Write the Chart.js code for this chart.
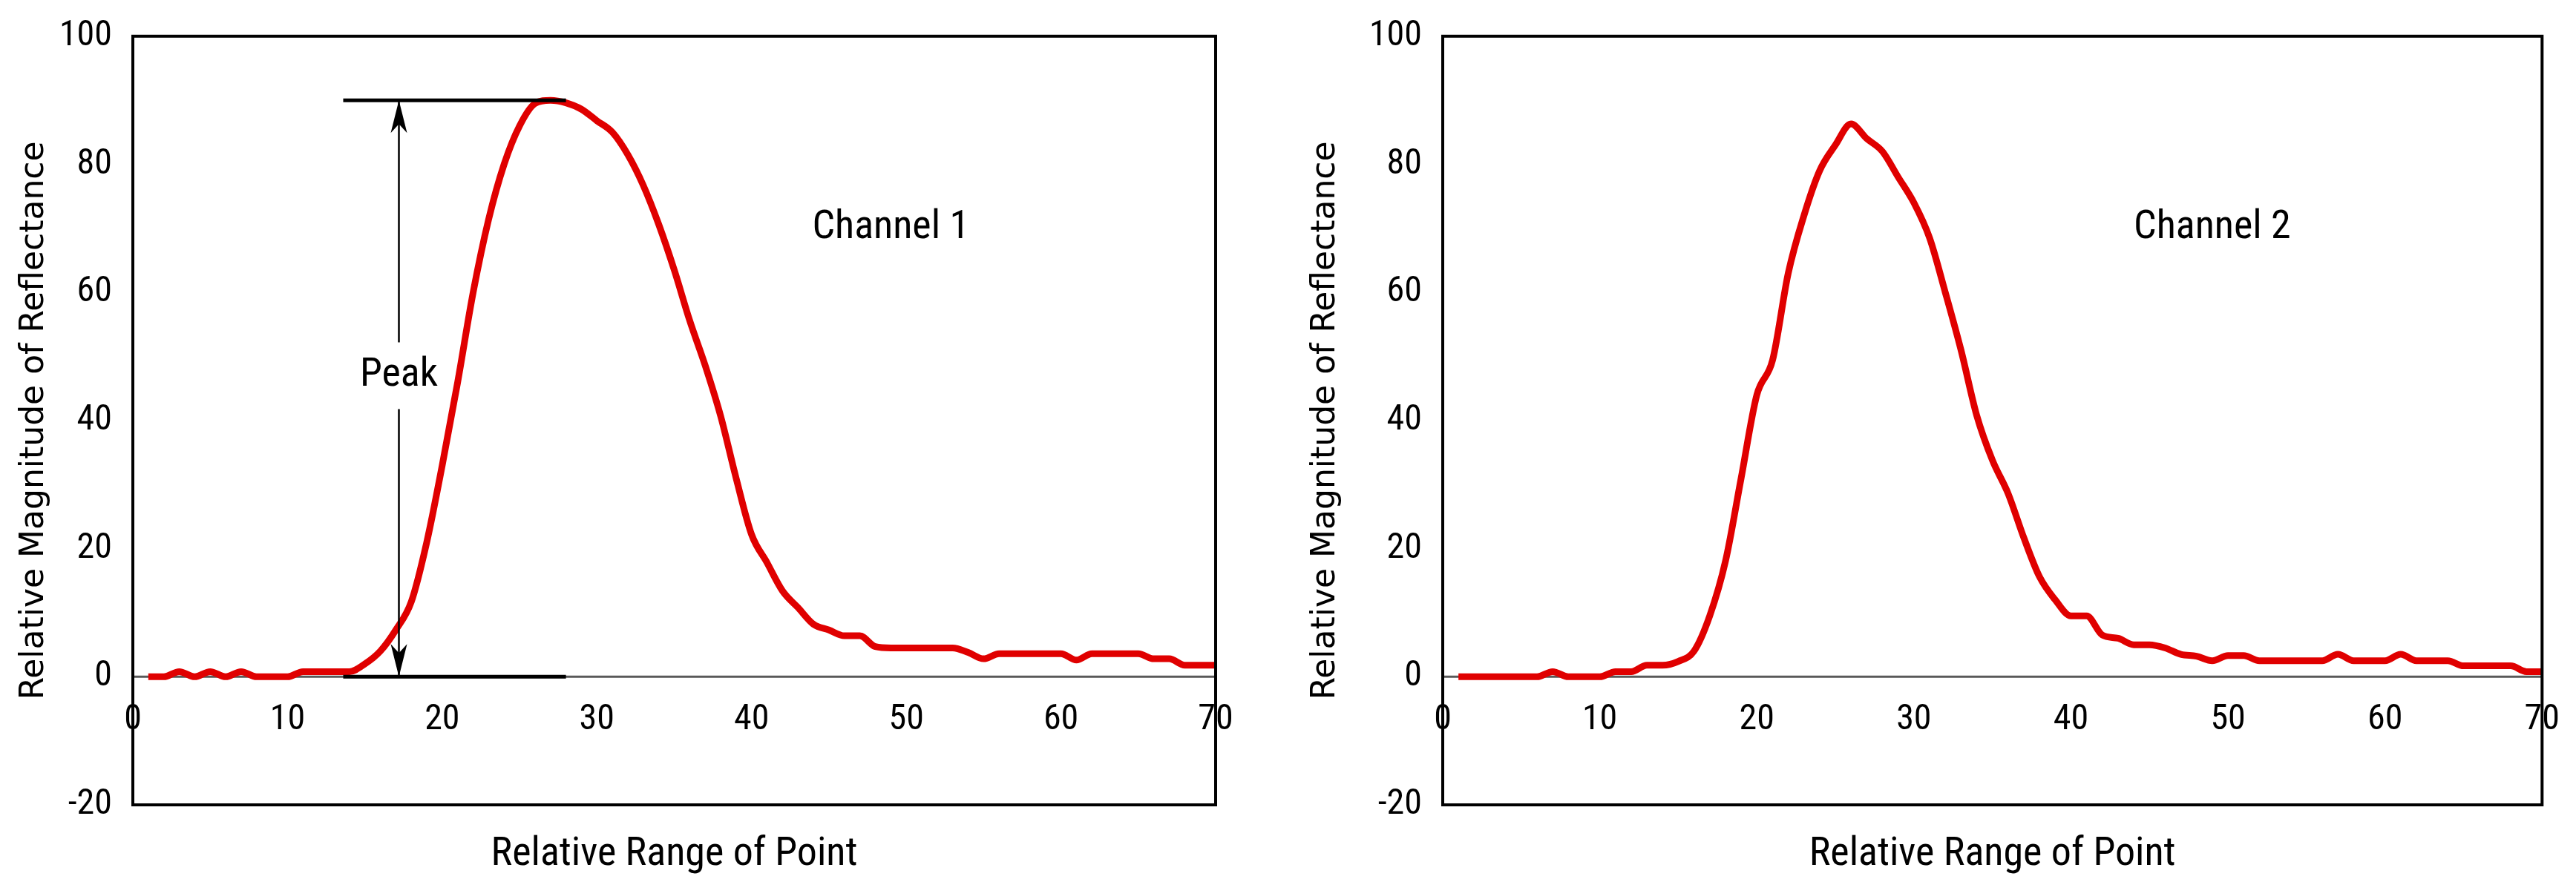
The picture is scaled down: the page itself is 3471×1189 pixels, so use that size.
<!DOCTYPE html>
<html>
<head>
<meta charset="utf-8">
<script src="https://cdn.jsdelivr.net/npm/chart.js@4.4.1/dist/chart.umd.min.js"></script>
<style>
  body { margin: 0; background: #fff; }
  .wrap { position: absolute; top: 0; height: 1189px; }
  #w1 { left: 0; width: 1740px; }
  #w2 { left: 1740px; width: 1731px; }
</style>
</head>
<body>
<div class="wrap" id="w1"><canvas id="c1"></canvas></div>
<div class="wrap" id="w2"><canvas id="c2"></canvas></div>
<script>
// 数据
const points = [];
for (let i = 1; i <= 70; i++) points.push(i);

const channel1 = [0, 0, 0.8, 0, 0.8, 0, 0.8, 0, 0, 0,
  0.8, 0.8, 0.8, 0.8, 2, 4, 7.3, 11.7, 21, 33,
  46, 60, 71.4, 80, 86, 89.5, 90, 89.6, 88.6, 86.8,
  85, 81.5, 76.7, 70.6, 63.5, 55.6, 48.6, 40.7, 31, 22.2,
  17.8, 13.4, 10.8, 8.2, 7.3, 6.4, 6.4, 4.7, 4.5, 4.5,
  4.5, 4.5, 4.5, 3.8, 2.8, 3.6, 3.6, 3.6, 3.6, 3.6,
  2.6, 3.6, 3.6, 3.6, 3.6, 2.8, 2.8, 1.8, 1.8, 1.8];

const channel2 = [0, 0, 0, 0, 0, 0, 0.8, 0, 0, 0,
  0.8, 0.8, 1.8, 1.8, 2.4, 4, 9.5, 18, 31, 44,
  49.4, 63, 72, 79, 83, 86.3, 84, 82, 78, 74,
  68.5, 60, 51, 40.8, 33.8, 28.6, 21.7, 15.6, 12, 9.5,
  9.5, 6.5, 6, 5, 5, 4.5, 3.5, 3.2, 2.5, 3.3,
  3.3, 2.5, 2.5, 2.5, 2.5, 2.5, 3.5, 2.5, 2.5, 2.5,
  3.5, 2.5, 2.5, 2.5, 1.7, 1.7, 1.7, 1.7, 0.8, 0.8];

const xTicks = [0, 10, 20, 30, 40, 50, 60, 70];
const yTicks = [-20, 0, 20, 40, 60, 80, 100];

// 标注
const peakArrow = { x: 17.2, from: 0, to: 90, lineFrom: 13.6, lineTo: 28, label: 'Peak', labelY: 47 };

const narrow = "'Liberation Sans Narrow', 'Roboto Condensed', 'Liberation Sans'";
const tickFont = { family: narrow, size: 48 };

// 边框、零线与文字
const framePlugin = {
  id: 'frame',
  beforeDatasetsDraw(chart) {
    const { ctx, chartArea: a, scales } = chart;
    const y0 = scales.y.getPixelForValue(0);
    ctx.save();
    ctx.strokeStyle = '#595959';
    ctx.lineWidth = 3;
    ctx.beginPath();
    ctx.moveTo(a.left, y0);
    ctx.lineTo(a.right, y0);
    ctx.stroke();
    ctx.restore();
  },
  afterDatasetsDraw(chart, args, opts) {
    const { ctx, chartArea: a, scales } = chart;
    ctx.save();
    ctx.strokeStyle = '#000';
    ctx.lineWidth = 4;
    ctx.strokeRect(a.left, a.top, a.right - a.left, a.bottom - a.top);

    ctx.fillStyle = '#000';
    ctx.font = "54px " + narrow;
    ctx.textAlign = 'center';
    ctx.textBaseline = 'middle';
    ctx.fillText(opts.label, scales.x.getPixelForValue(opts.labelX), scales.y.getPixelForValue(opts.labelY));

    if (opts.arrow) {
      const p = opts.arrow;
      const px = scales.x.getPixelForValue(p.x);
      const yb = scales.y.getPixelForValue(p.from);
      const yt = scales.y.getPixelForValue(p.to);
      const ym = scales.y.getPixelForValue(p.labelY);
      ctx.lineWidth = 5;
      ctx.beginPath();
      ctx.moveTo(scales.x.getPixelForValue(p.lineFrom), yt);
      ctx.lineTo(scales.x.getPixelForValue(p.lineTo), yt);
      ctx.moveTo(scales.x.getPixelForValue(p.lineFrom), yb);
      ctx.lineTo(scales.x.getPixelForValue(p.lineTo), yb);
      ctx.stroke();
      ctx.lineWidth = 2.5;
      ctx.beginPath();
      ctx.moveTo(px, yt);
      ctx.lineTo(px, ym - 45);
      ctx.moveTo(px, ym + 45);
      ctx.lineTo(px, yb);
      ctx.stroke();
      // 箭头
      [[yt, 1], [yb, -1]].forEach(([y, d]) => {
        ctx.beginPath();
        ctx.moveTo(px, y);
        ctx.lineTo(px - 11, y + d * 44);
        ctx.lineTo(px, y + d * 32);
        ctx.lineTo(px + 11, y + d * 44);
        ctx.closePath();
        ctx.fill();
      });
      ctx.font = "54px " + narrow;
      ctx.fillText(p.label, px, ym);
    }
    ctx.restore();
  }
};

function makeChart(id, values, leftWidth, rightPad, label, arrow) {
  return new Chart(document.getElementById(id), {
    type: 'line',
    data: {
      labels: points,
      datasets: [{
        data: values.map((v, i) => ({ x: points[i], y: v })),
        borderColor: '#E00000',
        borderWidth: 9,
        pointRadius: 0,
        tension: 0.4,
        cubicInterpolationMode: 'monotone',
        xAxisID: 'x'
      }]
    },
    options: {
      responsive: true,
      maintainAspectRatio: false,
      animation: false,
      layout: { padding: { top: 44, right: rightPad } },
      plugins: {
        legend: { display: false },
        tooltip: { enabled: false },
        frame: { label: label, labelX: 49, labelY: 70, arrow: arrow }
      },
      scales: {
        x: {
          type: 'linear',
          position: { y: 0 },
          min: 0, max: 70,
          grid: { display: false },
          border: { display: false },
          afterBuildTicks: s => { s.ticks = xTicks.map(v => ({ value: v })); },
          ticks: { color: '#000', font: tickFont, padding: 22, maxRotation: 0 }
        },
        x2: {
          type: 'linear',
          position: 'bottom',
          min: 0, max: 70,
          grid: { display: false },
          border: { display: false },
          ticks: { display: false },
          title: { display: true, text: 'Relative Range of Point', color: '#000',
                   font: { family: narrow, size: 54 }, padding: { top: 14 } },
          afterFit: s => { s.height = 104; }
        },
        y: {
          min: -20, max: 100,
          grid: { display: false },
          border: { display: false },
          afterBuildTicks: s => { s.ticks = yTicks.map(v => ({ value: v })); },
          ticks: { color: '#000', font: tickFont, padding: 20 },
          title: { display: true, text: 'Relative Magnitude of Reflectance', color: '#000',
                   font: { family: "'DejaVu Sans'", size: 44 }, padding: { top: 20, bottom: 0 } },
          afterFit: s => { s.width = leftWidth; }
        }
      }
    },
    plugins: [framePlugin]
  });
}

makeChart('c1', channel1, 179, 102, 'Channel 1', peakArrow);
makeChart('c2', channel2, 204, 44, 'Channel 2', null);
</script>
</body>
</html>
